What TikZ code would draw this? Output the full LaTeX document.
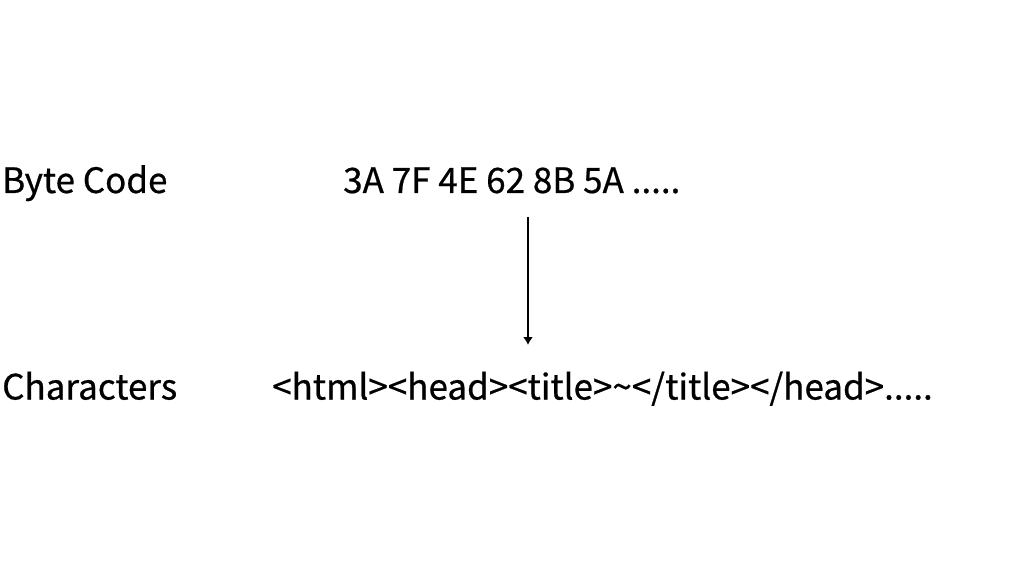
\documentclass[tikz,border=0pt]{standalone}
\usepackage{fontspec}
\usetikzlibrary{arrows.meta}
\setmainfont{Noto Sans CJK SC}[FakeBold=0.6]
\begin{document}
\begin{tikzpicture}[x=1pt,y=1pt,
  lbl/.style={inner sep=0pt,anchor=base west,font=\fontsize{35}{40}\selectfont}]
\useasboundingbox (0,0) rectangle (1024,576);
\fill[white] (0,0) rectangle (1024,576);
\node[lbl] (bc) at (2,383) {Byte Code};
\node[lbl] (hex) at (343,383) {3A 7F 4E 62 8B 5A .....};
\node[lbl] (ch) at (2,176.5) {Characters};
\node[lbl] (html) at (272,176.5) {<html><head><title>\char`\~</title></head>.....};
\coordinate (top) at (528,359);
\coordinate (bot) at (528,231);
\draw[line width=2pt,-{Latex[length=8pt,width=10pt]}] (top) -- (bot);
\end{tikzpicture}
\end{document}
